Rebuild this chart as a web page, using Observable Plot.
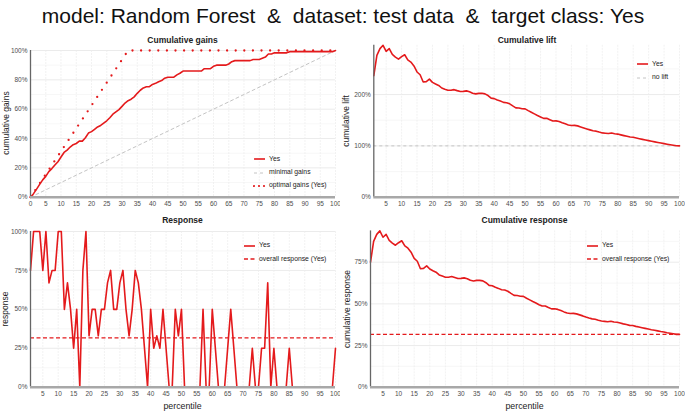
<!DOCTYPE html>
<html>
<head>
<meta charset="utf-8">
<script src="https://cdn.jsdelivr.net/npm/d3@7"></script>
<script src="https://cdn.jsdelivr.net/npm/@observablehq/plot@0.6"></script>
<style>
  html, body { margin: 0; padding: 0; background: #fff; }
  #root { position: relative; width: 685px; height: 411px; overflow: hidden; font-family: "Liberation Sans", Arial, sans-serif; }
  .t { position: absolute; white-space: pre; line-height: 1; }
  .c { transform: translate(-50%, -50%); }
  .r { transform: translate(-50%, -50%) rotate(-90deg); }
</style>
</head>
<body>
<div id="root"></div>
<script>
// ---------- data ----------
const mainTitle = "model: Random Forest  &  dataset: test data  &  target class: Yes";
const percentile = d3.range(1, 101);          // 1..100
const gainsPercentile = d3.range(0, 101);     // 0..100

// response per percentile (%)
const response = [75,100,100,100,75,100,67,75,75,100,
  100,50,67,50,25,50,0,75,100,33,
  50,50,33,50,50,67,75,50,50,67,
  75,50,33,50,75,67,50,25,0,50,
  25,33,25,50,25,0,0,50,33,50,
  0,0,0,0,0,0,50,0,0,50,
  25,0,0,0,25,50,25,0,0,0,
  0,0,25,0,0,25,25,67,0,25,
  0,0,0,0,25,0,0,0,0,0,
  0,0,0,0,0,0,0,0,0,25];

// cumulative response (%)
const cumResponse = [75.0,87.5,91.7,93.8,90.0,91.7,88.1,86.5,85.2,86.7,
  87.9,84.8,83.4,81.0,77.3,75.6,71.1,71.3,72.8,70.9,
  69.9,69.0,67.4,66.7,66.0,66.0,66.4,65.8,65.2,65.3,
  65.6,65.1,64.2,63.7,64.1,64.1,63.8,62.7,61.1,60.9,
  60.0,59.3,58.5,58.3,57.6,56.3,55.1,55.0,54.6,54.5,
  53.4,52.4,51.4,50.5,49.5,48.7,48.7,47.8,47.0,47.1,
  46.7,46.0,45.2,44.5,44.2,44.3,44.0,43.4,42.8,42.1,
  41.5,41.0,40.8,40.2,39.7,39.5,39.3,39.6,39.1,39.0,
  38.5,38.0,37.6,37.1,37.0,36.5,36.1,35.7,35.3,34.9,
  34.5,34.2,33.8,33.4,33.1,32.7,32.4,32.1,31.7,31.7];

// cumulative lift (%)
const cumLift = [236.8,276.3,289.5,296.0,284.2,289.5,278.3,273.1,269.1,273.8,
  277.6,267.6,263.3,255.8,244.0,238.6,224.6,225.2,230.0,223.7,
  220.6,217.7,212.8,210.5,208.4,208.5,209.6,207.7,206.0,206.2,
  207.2,205.6,202.6,201.3,202.3,202.5,201.3,198.1,193.0,192.1,
  189.4,187.4,184.8,184.2,181.9,177.9,174.1,173.8,172.4,172.1,
  168.7,165.5,162.4,159.3,156.4,153.6,153.7,151.1,148.5,148.7,
  147.5,145.1,142.9,140.6,139.7,139.9,139.0,137.0,135.0,133.1,
  131.2,129.4,128.7,126.9,125.3,124.6,124.0,125.2,123.6,123.0,
  121.5,120.0,118.6,117.2,116.7,115.4,114.0,112.7,111.5,110.2,
  109.0,107.8,106.7,105.6,104.4,103.3,102.3,101.2,100.2,100.0];

// cumulative gains (%), percentile 0..100
const cumGains = [0,
  2.4,5.5,8.7,11.8,14.2,17.4,19.5,21.9,24.2,27.4,
  30.5,32.1,34.2,35.8,36.6,38.2,38.2,40.5,43.7,44.7,
  46.3,47.9,48.9,50.5,52.1,54.2,56.6,58.2,59.7,61.9,
  64.2,65.8,66.8,68.4,70.8,72.9,74.5,75.3,75.3,76.9,
  77.6,78.7,79.5,81.1,81.8,81.8,81.8,83.4,84.5,86.0,
  86.0,86.0,86.0,86.0,86.0,86.0,87.6,87.6,87.6,89.2,
  90.0,90.0,90.0,90.0,90.8,92.4,93.1,93.1,93.1,93.1,
  93.1,93.1,93.9,93.9,93.9,94.7,95.5,97.6,97.6,98.4,
  98.4,98.4,98.4,98.4,99.2,99.2,99.2,99.2,99.2,99.2,
  99.2,99.2,99.2,99.2,99.2,99.2,99.2,99.2,99.2,100];

const optimalX = [0, 32, 100];
const optimalY = [0, 100, 100];
const minimalX = [0, 100];
const minimalY = [0, 100];
const overallResponse = 31.7;
const noLift = 100;

const ticks5 = d3.range(5, 101, 5);
const ticks0to100by5 = d3.range(0, 101, 5);

// ---------- styling ----------
const red = "#E41A1C";
const greyRef = "#c4c4c4";
const root = document.getElementById("root");

function addText(txt, x, y, size, opts = {}) {
  const d = document.createElement("div");
  d.className = "t " + (opts.rotate ? "r" : (opts.left ? "" : "c"));
  d.textContent = txt;
  d.style.left = x + "px";
  d.style.top = (opts.left ? (y - size / 2) : y) + "px";
  d.style.fontSize = size + "px";
  d.style.fontWeight = opts.bold ? "bold" : "normal";
  d.style.color = opts.color || "#222";
  root.appendChild(d);
}

function addLegendRow(x, y, label, kind) {
  const ns = "http://www.w3.org/2000/svg";
  const s = document.createElementNS(ns, "svg");
  s.setAttribute("width", 14);
  s.setAttribute("height", 6);
  s.style.position = "absolute";
  s.style.left = (x - 1) + "px";
  s.style.top = (y - 3) + "px";
  const l = document.createElementNS(ns, "line");
  l.setAttribute("x1", 1); l.setAttribute("x2", 12);
  l.setAttribute("y1", 3); l.setAttribute("y2", 3);
  if (kind === "solid") { l.setAttribute("stroke", red); l.setAttribute("stroke-width", 1.6); }
  if (kind === "grey") { l.setAttribute("stroke", greyRef); l.setAttribute("stroke-width", 1); l.setAttribute("stroke-dasharray", "3,3"); }
  if (kind === "dashred") { l.setAttribute("stroke", red); l.setAttribute("stroke-width", 1.4); l.setAttribute("stroke-dasharray", "4,2.5"); }
  if (kind === "dot") { l.setAttribute("stroke", red); l.setAttribute("stroke-width", 2.2); l.setAttribute("stroke-dasharray", "0,5"); l.setAttribute("stroke-linecap", "round"); }
  s.appendChild(l);
  root.appendChild(s);
  addText(label, x + 15, y, 6.8, { left: true, color: "#222" });
}

function panel(o, marks) {
  const svg = Plot.plot({
    width: o.width, height: o.height,
    marginLeft: o.mL, marginRight: o.mR, marginTop: o.mT, marginBottom: o.mB,
    x: { domain: o.xDomain },
    y: { domain: o.yDomain },
    style: { fontFamily: "Liberation Sans, Arial, sans-serif", fontSize: "6.5px", color: "#4d4d4d", background: "transparent" },
    marks: [
      Plot.gridY(o.yMinor, { stroke: "#f3f3f3", strokeOpacity: 1, strokeWidth: 0.7 }),
      Plot.gridY(o.yTicks, { stroke: "#e6e6e6", strokeOpacity: 1, strokeWidth: 0.8 }),
      Plot.gridX(o.xTicks, { stroke: "#ececec", strokeOpacity: 1, strokeWidth: 0.7, strokeDasharray: "2,1" }),
      ...marks,
      Plot.ruleX([o.xDomain[0]], { stroke: "#666", strokeWidth: 1.3 }),
      Plot.ruleY([o.yDomain[0]], { stroke: "#a8a8a8", strokeWidth: 2.4 }),
      Plot.axisX(o.xTicks, { tickSize: 0, tickPadding: 4, label: null }),
      Plot.axisY(o.yTicks, { tickSize: 0, tickPadding: 3, label: null, tickFormat: d => d + "%" })
    ]
  });
  svg.style.position = "absolute";
  svg.style.left = o.left + "px";
  svg.style.top = o.top + "px";
  root.appendChild(svg);
}

// ---------- main title ----------
addText(mainTitle, 343, 15, 21, { color: "#111" });

// ---------- panel 1: cumulative gains ----------
const gainsData = gainsPercentile.map((p, i) => ({ p, v: cumGains[i] }));
const optData = optimalX.map((p, i) => ({ p, v: optimalY[i] }));
const minData = minimalX.map((p, i) => ({ p, v: minimalY[i] }));
panel({
  left: 0, top: 30, width: 340, height: 185,
  mL: 30, mR: 5, mT: 20, mB: 18.3,
  xDomain: [0, 100], yDomain: [0, 100],
  xTicks: ticks0to100by5, yTicks: [0, 20, 40, 60, 80, 100], yMinor: [10, 30, 50, 70, 90]
}, [
  Plot.line(minData, { x: "p", y: "v", stroke: greyRef, strokeWidth: 1, strokeDasharray: "3,3" }),
  Plot.line(optData, { x: "p", y: "v", stroke: red, strokeWidth: 2.3, strokeDasharray: "0,8.6", strokeLinecap: "round" }),
  Plot.line(gainsData, { x: "p", y: "v", stroke: red, strokeWidth: 1.6 })
]);
addText("Cumulative gains", 182.5, 40, 8.5, { bold: true });
addText("cumulative gains", 5.5, 123, 8.5, { rotate: true });
addLegendRow(254, 159, "Yes", "solid");
addLegendRow(254, 172.5, "minimal gains", "grey");
addLegendRow(254, 185.5, "optimal gains (Yes)", "dot");

// ---------- panel 2: cumulative lift ----------
const liftData = percentile.map((p, i) => ({ p, v: cumLift[i] }));
panel({
  left: 340, top: 30, width: 345, height: 185,
  mL: 33.3, mR: 6, mT: 14.8, mB: 18.3,
  xDomain: [1, 100], yDomain: [0, d3.max(cumLift)],
  xTicks: ticks5, yTicks: [0, 100, 200], yMinor: [50, 150, 250]
}, [
  Plot.ruleY([noLift], { stroke: greyRef, strokeWidth: 1, strokeDasharray: "3,3" }),
  Plot.line(liftData, { x: "p", y: "v", stroke: red, strokeWidth: 1.6 })
]);
addText("Cumulative lift", 527, 40, 8.5, { bold: true });
addText("cumulative lift", 345.5, 121, 8.5, { rotate: true });
addLegendRow(637, 64.3, "Yes", "solid");
addLegendRow(637, 77.7, "no lift", "grey");

// ---------- panel 3: response ----------
const respData = percentile.map((p, i) => ({ p, v: response[i] }));
panel({
  left: 0, top: 215, width: 340, height: 196,
  mL: 30, mR: 5, mT: 16, mB: 24.3,
  xDomain: [1, 100], yDomain: [0, 100],
  xTicks: ticks5, yTicks: [0, 25, 50, 75, 100], yMinor: [12.5, 37.5, 62.5, 87.5]
}, [
  Plot.ruleY([overallResponse], { stroke: red, strokeWidth: 1.4, strokeDasharray: "4,2.5" }),
  Plot.line(respData, { x: "p", y: "v", stroke: red, strokeWidth: 1.6 })
]);
addText("Response", 182.5, 220, 8.5, { bold: true });
addText("response", 4.5, 309, 8.5, { rotate: true });
addText("percentile", 182.5, 405.5, 8.8);
addLegendRow(244, 245.7, "Yes", "solid");
addLegendRow(244, 259, "overall response (Yes)", "dashred");

// ---------- panel 4: cumulative response ----------
const cumRespData = percentile.map((p, i) => ({ p, v: cumResponse[i] }));
panel({
  left: 340, top: 215, width: 345, height: 196,
  mL: 30, mR: 6, mT: 15.4, mB: 24.3,
  xDomain: [1, 100], yDomain: [0, d3.max(cumResponse)],
  xTicks: ticks5, yTicks: [0, 25, 50, 75], yMinor: [12.5, 37.5, 62.5, 87.5]
}, [
  Plot.ruleY([overallResponse], { stroke: red, strokeWidth: 1.4, strokeDasharray: "4,2.5" }),
  Plot.line(cumRespData, { x: "p", y: "v", stroke: red, strokeWidth: 1.6 })
]);
addText("Cumulative response", 524.5, 220, 8.5, { bold: true });
addText("cumulative response", 346.5, 308.5, 8.5, { rotate: true });
addText("percentile", 524.5, 405.5, 8.8);
addLegendRow(587, 245.7, "Yes", "solid");
addLegendRow(587, 259, "overall response (Yes)", "dashred");
</script>
</body>
</html>
